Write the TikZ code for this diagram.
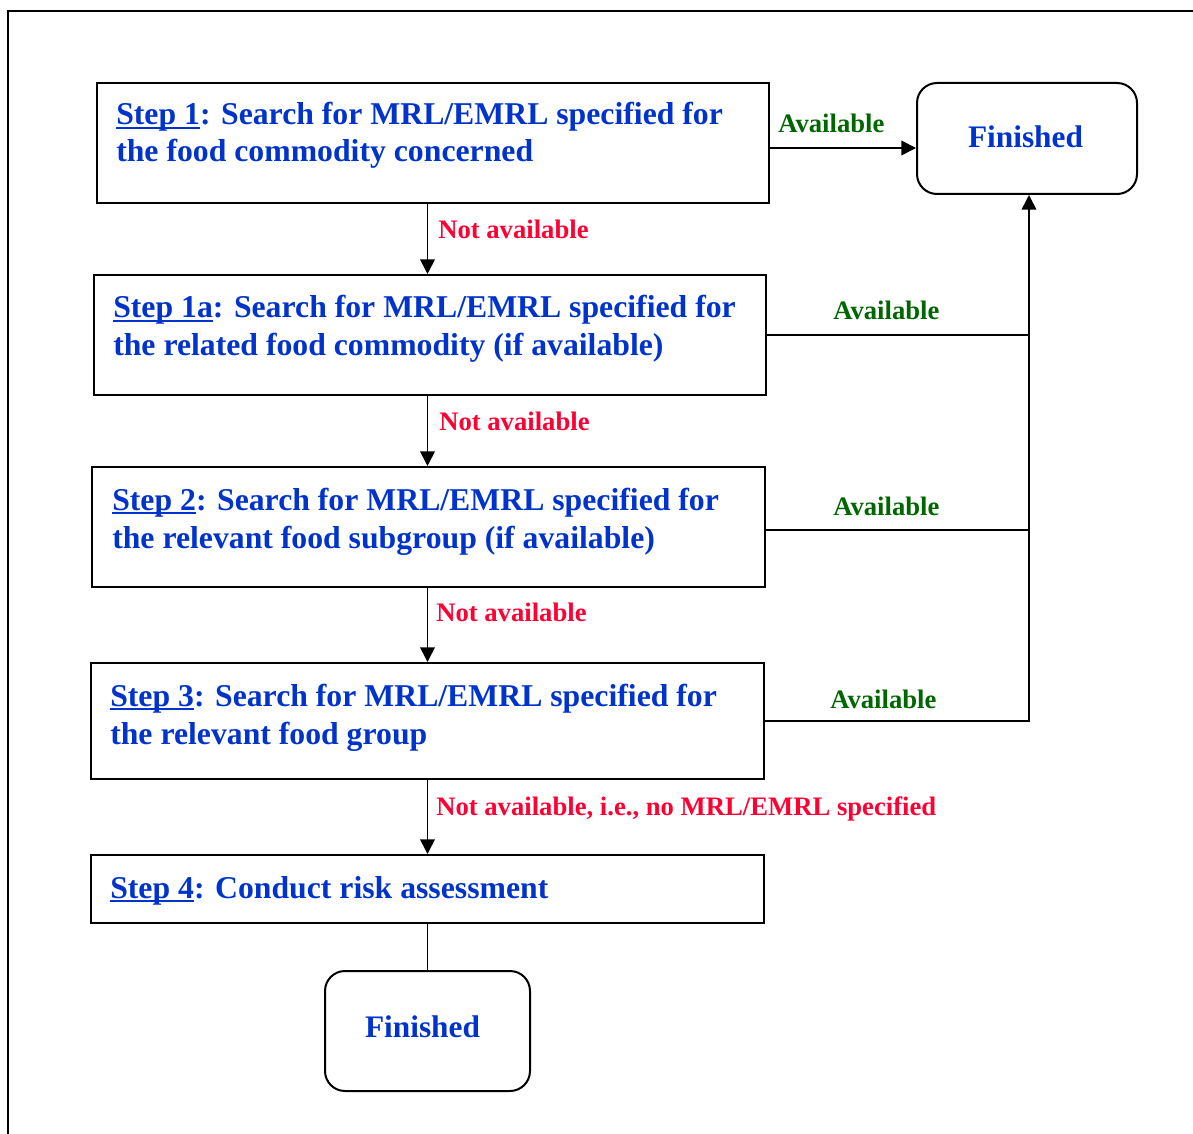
\documentclass[tikz,border=0pt]{standalone}
\usepackage{fontspec}
\setmainfont{Liberation Serif}
\usetikzlibrary{arrows.meta}
\definecolor{stepblue}{HTML}{0033CC}
\definecolor{okgreen}{HTML}{006600}
\definecolor{nored}{HTML}{FF0033}
\newlength\ulwidth
\newcommand\stepul[1]{\settowidth\ulwidth{#1}\rlap{\rule[-3pt]{\ulwidth}{1.3pt}}#1}
\begin{document}
\begin{tikzpicture}[x=0.75pt,y=-0.75pt,
  stepbox/.style={draw, line width=1.5pt, inner sep=0pt},
  finbox/.style={draw, line width=1.5pt, rounded corners=15pt, inner sep=0pt},
  steptext/.style={anchor=base west, inner sep=0pt, text=stepblue, font=\fontsize{23.8}{28.5}\selectfont\bfseries},
  fintext/.style={anchor=base, inner sep=0pt, text=stepblue, font=\fontsize{23.5}{28}\selectfont\bfseries},
  oklabel/.style={anchor=base west, inner sep=0pt, text=okgreen, font=\fontsize{20}{24}\selectfont\bfseries},
  nolabel/.style={anchor=base west, inner sep=0pt, text=nored, font=\fontsize{20}{24}\selectfont\bfseries},
  link/.style={line width=1.25pt},
  arr/.style={link, -{Triangle[length=11pt,width=11pt]}}
]
\useasboundingbox (0,0) rectangle (1193,1134);
% outer frame
\draw[line width=1.5pt] (8,1140) -- (8,11) -- (1200,11);

% boxes
\node[stepbox, minimum width=504pt, minimum height=90pt] (s1) at (433,143) {};
\node[stepbox, minimum width=504pt, minimum height=90pt] (s1a) at (430,335) {};
\node[stepbox, minimum width=504.75pt, minimum height=90pt] (s2) at (428.5,527) {};
\node[stepbox, minimum width=504.75pt, minimum height=87pt] (s3) at (427.5,721) {};
\node[stepbox, minimum width=504.75pt, minimum height=51pt] (s4) at (427.5,889) {};
\node[finbox, minimum width=165pt, minimum height=83.25pt] (f1) at (1027,138.5) {};
\node[finbox, minimum width=153.75pt, minimum height=90pt] (f2) at (427.5,1031) {};
\path ([xshift=1.5pt]f1.south) coordinate (trunk);

% texts
\node[steptext] (t1a) at (116,125) {\stepul{Step 1}: Search for MRL/EMRL specified for};
\node[steptext] (t1b) at (116,162) {the food commodity concerned};
\node[steptext] (t2a) at (113,318) {\stepul{Step 1a}: Search for MRL/EMRL specified for};
\node[steptext] (t2b) at (113,356) {the related food commodity (if available)};
\node[steptext] (t3a) at (112,510) {\stepul{Step 2}: Search for MRL/EMRL specified for};
\node[steptext] (t3b) at (112,548) {the relevant food subgroup (if available)};
\node[steptext] (t4a) at (110,706) {\stepul{Step 3}: Search for MRL/EMRL specified for};
\node[steptext] (t4b) at (110,744) {the relevant food group};
\node[steptext] (t5a) at (110,898) {\stepul{Step 4}: Conduct risk assessment};
\node[fintext] (ft1) at (1025.5,148) {Finished};
\node[fintext] (ft2) at (422.5,1037) {Finished};

% connectors
\path ([yshift=-3.75pt]s1.east) coordinate (a1);
\draw[arr] (a1) -- (a1 -| f1.west);
\draw[link] (s1a.east) -- (s1a.east -| trunk);
\path ([yshift=-2.25pt]s2.east) coordinate (a2);
\draw[link] (a2) -- (a2 -| trunk);
\draw[arr] (s3.east) -- (s3.east -| trunk) -- (trunk);
\draw[arr] (s1.south -| f2.north) -- (s1a.north -| f2.north);
\draw[arr] (s1a.south -| f2.north) -- (s2.north -| f2.north);
\draw[arr] (s2.south -| f2.north) -- (s3.north -| f2.north);
\draw[arr] (s3.south -| f2.north) -- (s4.north -| f2.north);
\draw[link] (s4.south -| f2.north) -- (f2.north);

% labels
\node[oklabel] (l1) at (778,133) {Available};
\node[oklabel] (l2) at (833,320) {Available};
\node[oklabel] (l3) at (833,515) {Available};
\node[oklabel] (l4) at (830,708) {Available};
\node[nolabel] (n1) at (438,239) {Not available};
\node[nolabel] (n2) at (439,431) {Not available};
\node[nolabel] (n3) at (436,621) {Not available};
\node[nolabel] (n4) at (436,815) {Not available, i.e., no MRL/EMRL specified};
\end{tikzpicture}
\end{document}
